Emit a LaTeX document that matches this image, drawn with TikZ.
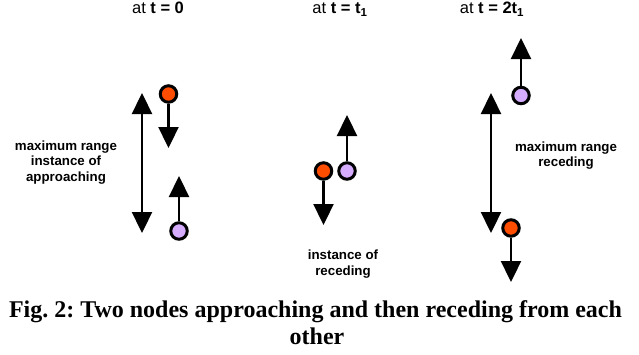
\documentclass[tikz,border=0pt]{standalone}
\usepackage{fontspec}
\setmainfont{Liberation Serif}
\setsansfont{Liberation Sans}
\usetikzlibrary{arrows.meta}
\definecolor{nodered}{RGB}{255,77,0}
\definecolor{nodelav}{RGB}{214,172,255}
\frenchspacing
\tikzset{
  tri/.tip={Triangle[width=20pt,length=21pt]},
  movearrow/.style={-tri, line width=2.3pt},
  rangearrow/.style={tri-tri, line width=2.3pt},
  mnode/.style={circle, draw=black, line width=3pt, minimum size=16.5pt, inner sep=0pt},
  rednode/.style={mnode, fill=nodered},
  lavnode/.style={mnode, fill=nodelav},
  header/.style={font=\sffamily\fontsize{16.5}{19}\selectfont, anchor=base, inner sep=0pt},
  lbl/.style={font=\sffamily\bfseries\fontsize{13.3}{15.5}\selectfont, align=center, anchor=base, inner sep=0pt},
  caption/.style={font=\rmfamily\bfseries\fontsize{24}{27.5}\selectfont, anchor=base, inner sep=0pt}
}
\begin{document}
\begin{tikzpicture}[x=1pt, y=-1pt]
\useasboundingbox (0,0) rectangle (639,354);
% headers
\node[header] (h1) at (158,13.5) {at \textbf{t = 0}};
\node[header] (h2) at (340,13.5) {at \textbf{t = t\textsubscript{1}}};
\node[header] (h3) at (492,13.5) {at \textbf{t = 2t\textsubscript{1}}};
% column 1: t = 0
\coordinate (ra1) at (142,93);
\coordinate (rb1) at (142,233);
\draw[rangearrow] (ra1) -- (rb1);
\node[rednode] (r1) at (168.5,94) {};
\coordinate (r1t) at (168.5,148);
\draw[movearrow] (r1) -- (r1t);
\node[lavnode] (p1) at (179,231) {};
\coordinate (p1t) at (179,176);
\draw[movearrow] (p1) -- (p1t);
\node[lbl] (l1) at (66,181) {maximum range\\instance of\\approaching};
% column 2: t = t1
\node[rednode] (r2) at (323.5,171) {};
\coordinate (r2t) at (323.5,225);
\draw[movearrow] (r2) -- (r2t);
\node[lavnode] (p2) at (347,171) {};
\coordinate (p2t) at (347,115);
\draw[movearrow] (p2) -- (p2t);
\node[lbl] (l2) at (343,275) {instance of\\receding};
% column 3: t = 2t1
\node[lavnode] (p3) at (521,95.5) {};
\coordinate (p3t) at (521,38);
\draw[movearrow] (p3) -- (p3t);
\coordinate (ra3) at (491,93);
\coordinate (rb3) at (491,233);
\draw[rangearrow] (ra3) -- (rb3);
\node[rednode] (r3) at (511,228) {};
\coordinate (r3t) at (511,282);
\draw[movearrow] (r3) -- (r3t);
\node[lbl] (l3) at (566,166.5) {maximum range\\receding};
% caption
\node[caption] (c1) at (315.5,317) {Fig. 2: Two nodes approaching and then receding from each};
\node[caption] (c2) at (317,344.5) {other};
\end{tikzpicture}
\end{document}
